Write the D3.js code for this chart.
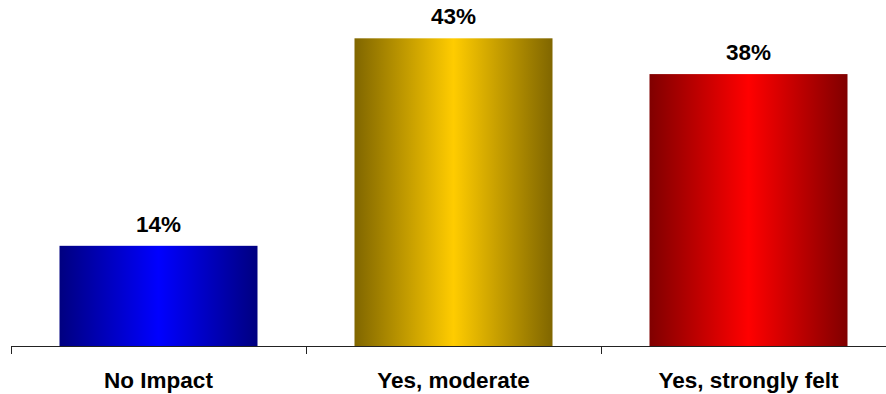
<!DOCTYPE html>
<html>
<head>
<meta charset="utf-8">
<script src="https://cdn.jsdelivr.net/npm/d3@7"></script>
<style>
  html, body { margin: 0; padding: 0; background: #fff; }
  svg { display: block; }
  text { font-family: "Liberation Sans", Arial, sans-serif; font-weight: bold; fill: #000; }
</style>
</head>
<body>
<svg id="chart" width="886" height="394"></svg>
<script>
// Survey results: perceived impact
const categories = ["No Impact", "Yes, moderate", "Yes, strongly felt"];
const values = [14, 43, 38];
const brightColors = ["#0000FF", "#FFCC00", "#FF0000"];
const darkColors = ["#000080", "#806600", "#800000"];

const svg = d3.select("#chart");
const baseY = 346;

// three equal bands starting at the left edge; the last one runs past the frame
const x = d3.scaleBand()
  .domain(categories)
  .range([11, 896])
  .paddingInner(0)
  .paddingOuter(0);

const y = d3.scaleLinear()
  .domain([0, 45])
  .range([baseY, 24]);

const barWidth = 198;

// horizontal gradients: dark at the edges, bright in the middle
const defs = svg.append("defs");
categories.forEach((c, i) => {
  const g = defs.append("linearGradient")
    .attr("id", "grad" + i)
    .attr("x1", "0%").attr("x2", "100%")
    .attr("y1", "0%").attr("y2", "0%");
  g.append("stop").attr("offset", "0%").attr("stop-color", darkColors[i]);
  g.append("stop").attr("offset", "50%").attr("stop-color", brightColors[i]);
  g.append("stop").attr("offset", "100%").attr("stop-color", darkColors[i]);
});

svg.selectAll("rect.bar")
  .data(values)
  .join("rect")
  .attr("class", "bar")
  .attr("x", (d, i) => x(categories[i]) + (x.bandwidth() - barWidth) / 2)
  .attr("width", barWidth)
  .attr("y", d => y(d))
  .attr("height", d => y(0) - y(d))
  .attr("fill", (d, i) => "url(#grad" + i + ")");

// value labels above bars
svg.selectAll("text.value")
  .data(values)
  .join("text")
  .attr("class", "value")
  .attr("x", (d, i) => x(categories[i]) + x.bandwidth() / 2)
  .attr("y", d => y(d) - 14)
  .attr("text-anchor", "middle")
  .style("font-size", "22.5px")
  .text(d => d + "%");

// category axis with ticks on band boundaries
const axisG = svg.append("g");
axisG.append("line")
  .attr("x1", x.range()[0]).attr("x2", x.range()[1])
  .attr("y1", baseY + 0.5).attr("y2", baseY + 0.5)
  .attr("stroke", "#222").attr("stroke-width", 1);

const boundaries = categories.map(c => x(c)).concat([x.range()[1]]);
axisG.selectAll("line.tick")
  .data(boundaries)
  .join("line")
  .attr("class", "tick")
  .attr("x1", d => Math.round(d) + 0.5).attr("x2", d => Math.round(d) + 0.5)
  .attr("y1", baseY).attr("y2", baseY + 8)
  .attr("stroke", "#222").attr("stroke-width", 1);

axisG.selectAll("text.cat")
  .data(categories)
  .join("text")
  .attr("class", "cat")
  .attr("x", d => x(d) + x.bandwidth() / 2)
  .attr("y", 388)
  .attr("text-anchor", "middle")
  .style("font-size", "22.5px")
  .text(d => d);
</script>
</body>
</html>
